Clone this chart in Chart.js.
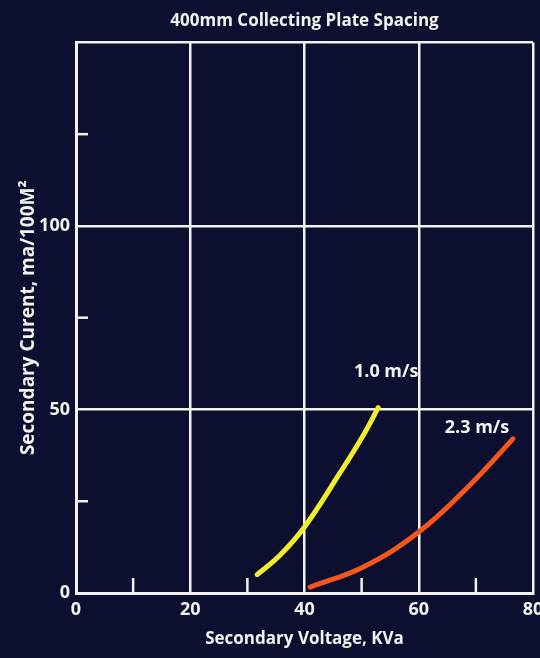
<!DOCTYPE html>
<html>
<head>
<meta charset="utf-8">
<script src="https://cdn.jsdelivr.net/npm/chart.js@4"></script>
<style>
  html, body { margin: 0; padding: 0; background: #0c0f2e; }
  #wrap { width: 540px; height: 658px; position: relative; }
</style>
</head>
<body>
<div id="wrap"><canvas id="c" width="540" height="658"></canvas></div>
<script>
// ---- data ----
const title = "400mm Collecting Plate Spacing";
const xTitle = "Secondary Voltage, KVa";
const yTitle = "Secondary Curent, ma/100M\u00B2";

const series1Label = "1.0 m/s";
const series1X = [31.7, 35.7, 40.0, 46.2, 50.3, 52.9];
const series1Y = [5.0, 10.3, 18.0, 32.7, 43.0, 50.5];

const series2Label = "2.3 m/s";
const series2X = [41.0, 50.3, 60.0, 69.0, 76.5];
const series2Y = [1.6, 7.1, 16.6, 29.5, 42.0];

const xMajorTicks = [0, 20, 40, 60, 80];
const xMinorTicks = [10, 30, 50, 70];
const yMajorLabels = [0, 50, 100];
const yGridValues = [0, 50, 100, 150];
const yMinorTicks = [25, 75, 125];

// label anchors (data coordinates) for the curve names
const seriesLabelAnchors = [
  { text: series1Label, x: 54.3, y: 60.2 },
  { text: series2Label, x: 70.2, y: 45.0 }
];

const FONT = "'Open Sans', sans-serif";
const WHITE = '#f2f2ee';

const toPts = (xs, ys) => xs.map((x, i) => ({ x: x, y: ys[i] }));

const bgPlugin = {
  id: 'bg',
  beforeDraw(chart) {
    const ctx = chart.ctx;
    ctx.save();
    ctx.fillStyle = '#0c0f2f';
    ctx.fillRect(0, 0, chart.width, chart.height);
    ctx.restore();
  }
};

const minorTickPlugin = {
  id: 'minorTicks',
  afterDraw(chart) {
    const ctx = chart.ctx;
    const xs = chart.scales.x, ys = chart.scales.y;
    ctx.save();
    ctx.strokeStyle = WHITE;
    ctx.lineWidth = 2.5;
    xMinorTicks.forEach(v => {
      const px = xs.getPixelForValue(v);
      ctx.beginPath();
      ctx.moveTo(px, ys.bottom);
      ctx.lineTo(px, ys.bottom - 15);
      ctx.stroke();
    });
    yMinorTicks.forEach(v => {
      const py = ys.getPixelForValue(v);
      ctx.beginPath();
      ctx.moveTo(xs.left, py);
      ctx.lineTo(xs.left + 12, py);
      ctx.stroke();
    });
    // curve names
    ctx.fillStyle = WHITE;
    ctx.font = "bold 18px " + FONT;
    ctx.textAlign = 'center';
    ctx.textBaseline = 'middle';
    seriesLabelAnchors.forEach(a => {
      ctx.fillText(a.text, xs.getPixelForValue(a.x), ys.getPixelForValue(a.y));
    });
    ctx.restore();
  }
};

new Chart(document.getElementById('c'), {
  type: 'line',
  data: {
    datasets: [
      {
        label: series1Label,
        data: toPts(series1X, series1Y),
        borderColor: '#f3ee2c',
        borderWidth: 5,
        pointRadius: 0,
        tension: 0.4,
        borderCapStyle: 'round',
        fill: false
      },
      {
        label: series2Label,
        data: toPts(series2X, series2Y),
        borderColor: '#f4561c',
        borderWidth: 5,
        pointRadius: 0,
        tension: 0.4,
        borderCapStyle: 'round',
        fill: false
      }
    ]
  },
  options: {
    responsive: false,
    animation: false,
    devicePixelRatio: 1,
    layout: { padding: { left: 0, right: 7, top: 0, bottom: 0 } },
    plugins: {
      legend: { display: false },
      tooltip: { enabled: false },
      title: {
        display: true,
        text: title,
        color: WHITE,
        fullSize: false,
        font: { family: FONT, size: 17, weight: 'bold', lineHeight: 1.2 },
        padding: { top: 11, bottom: 11 }
      }
    },
    scales: {
      x: {
        type: 'linear',
        min: 0, max: 80,
        afterFit(s) { s.height = 65; s.paddingLeft = 0; s.paddingRight = 0; },
        ticks: {
          stepSize: 10,
          color: WHITE,
          font: { family: FONT, size: 18, weight: 'bold' },
          padding: 6,
          maxRotation: 0,
          callback: v => xMajorTicks.includes(v) ? String(v) : ''
        },
        grid: {
          drawTicks: false,
          lineWidth: 2.5,
          color: ctx => (ctx.tick && xMajorTicks.includes(ctx.tick.value)) ? WHITE : 'rgba(0,0,0,0)'
        },
        border: { display: true, color: WHITE, width: 3 },
        title: {
          display: true,
          text: xTitle,
          color: WHITE,
          font: { family: FONT, size: 17, weight: 'bold' },
          padding: { top: 0, bottom: 9 }
        }
      },
      y: {
        type: 'linear',
        min: 0, max: 150,
        afterFit(s) { s.width = 76; },
        ticks: {
          stepSize: 25,
          color: WHITE,
          font: { family: FONT, size: 18, weight: 'bold' },
          padding: 6,
          callback: v => yMajorLabels.includes(v) ? String(v) : ''
        },
        grid: {
          drawTicks: false,
          lineWidth: 2.5,
          color: ctx => (ctx.tick && yGridValues.includes(ctx.tick.value)) ? WHITE : 'rgba(0,0,0,0)'
        },
        border: { display: true, color: WHITE, width: 3 },
        title: {
          display: true,
          text: yTitle,
          color: WHITE,
          font: { family: FONT, size: 19, weight: 'bold' },
          padding: { top: 17, bottom: 0 }
        }
      }
    }
  },
  plugins: [bgPlugin, minorTickPlugin]
});
</script>
</body>
</html>
